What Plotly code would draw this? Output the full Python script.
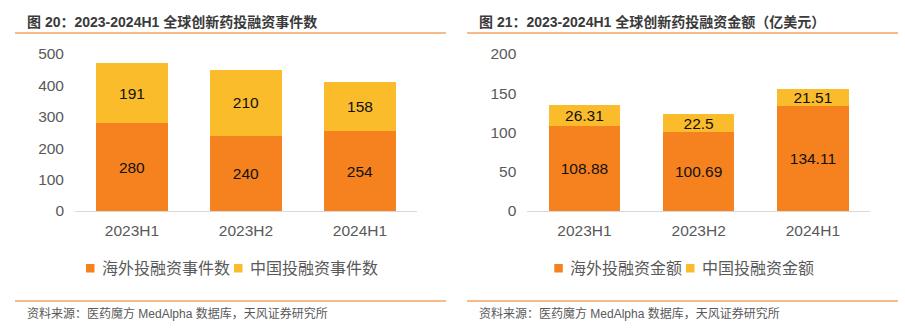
import plotly.graph_objects as go

W, H = 905, 329

periods = ["2023H1", "2023H2", "2024H1"]

# Investment event counts
overseas_events = [280, 240, 254]
china_events = [191, 210, 158]

# Investment amounts (100 million USD)
overseas_amount = [108.88, 100.69, 134.11]
china_amount = [26.31, 22.5, 21.51]

left_title = "图 20：2023-2024H1 全球创新药投融资事件数"
right_title = "图 21：2023-2024H1 全球创新药投融资金额（亿美元）"
source_text = "资料来源：医药魔方 MedAlpha 数据库，天风证券研究所"
left_names = ["海外投融资事件数", "中国投融资事件数"]
right_names = ["海外投融资金额", "中国投融资金额"]

ORANGE = "#F5821F"
YELLOW = "#FBBC2C"
RULE = "#F2A464"
GRAY = "#595959"
FONT = "Liberation Sans, Arial, Noto Sans CJK SC, sans-serif"


def px(x):
    return x / W


def py(y):
    return 1 - y / H


fig = go.Figure()


def add_bar(x, y, color, xa, ya, fmt):
    fig.add_trace(go.Bar(
        x=x, y=y, marker=dict(color=color, line=dict(width=0)),
        xaxis=xa, yaxis=ya, width=0.625,
        text=[fmt.format(v) for v in y], textposition="inside",
        insidetextanchor="middle", textangle=0,
        textfont=dict(size=15.5, color="#111111", family=FONT),
        showlegend=False, hoverinfo="skip",
    ))


add_bar(periods, overseas_events, ORANGE, "x", "y", "{:g}")
add_bar(periods, china_events, YELLOW, "x", "y", "{:g}")
add_bar(periods, overseas_amount, ORANGE, "x2", "y2", "{:g}")
add_bar(periods, china_amount, YELLOW, "x2", "y2", "{:g}")

y_dom = [py(211), py(54)]
axis_common = dict(
    showgrid=False, zeroline=False, ticks="",
    tickfont=dict(size=15.5, color=GRAY, family=FONT),
)

fig.update_layout(
    width=W, height=H,
    margin=dict(l=0, r=0, t=0, b=0, pad=0, autoexpand=False),
    paper_bgcolor="white", plot_bgcolor="white",
    barmode="stack", bargap=0.375, showlegend=False,
    font=dict(family=FONT, color=GRAY),
    uniformtext=dict(minsize=15.5, mode="show"),
    xaxis=dict(domain=[px(75), px(417)], anchor="y", showline=True,
               linecolor="#D9D9D9", linewidth=1, ticklabelstandoff=5,
               **axis_common),
    yaxis=dict(domain=y_dom, anchor="x", range=[0, 500], dtick=100,
               showline=False, ticklabelstandoff=10, **axis_common),
    xaxis2=dict(domain=[px(527.3), px(870)], anchor="y2", showline=True,
                linecolor="#D9D9D9", linewidth=1, ticklabelstandoff=5,
                **axis_common),
    yaxis2=dict(domain=y_dom, anchor="x2", range=[0, 200], dtick=50,
                showline=False, ticklabelstandoff=10, **axis_common),
)

shapes = []
annotations = []

# Header / footer rules and text for both panels
for x0, x1, title, tx in [(15, 446, left_title, 25), (467, 898, right_title, 477)]:
    for yy in (33, 301):
        shapes.append(dict(type="line", xref="paper", yref="paper",
                           x0=px(x0), x1=px(x1), y0=py(yy), y1=py(yy),
                           line=dict(color=RULE, width=1.5)))
    annotations.append(dict(text="<b>" + title + "</b>", xref="paper", yref="paper",
                            x=px(tx), y=py(22), xanchor="left", yanchor="middle",
                            showarrow=False,
                            font=dict(size=14, color="#3A3A3A", family=FONT)))
    annotations.append(dict(text=source_text, xref="paper", yref="paper",
                            x=px(tx), y=py(313), xanchor="left", yanchor="middle",
                            showarrow=False,
                            font=dict(size=12, color=GRAY, family=FONT)))

# Legend swatches and labels
legend_items = [
    (86, left_names[0], ORANGE), (234, left_names[1], YELLOW),
    (554.3, right_names[0], ORANGE), (686, right_names[1], YELLOW),
]
for sx, name, color in legend_items:
    shapes.append(dict(type="rect", xref="paper", yref="paper",
                       x0=px(sx), x1=px(sx + 8.5), y0=py(272.5), y1=py(264),
                       fillcolor=color, line=dict(width=0)))
    annotations.append(dict(text=name, xref="paper", yref="paper",
                            x=px(sx + 13.5), y=py(268), xanchor="left", yanchor="middle",
                            showarrow=False,
                            font=dict(size=16, color=GRAY, family=FONT)))

fig.update_layout(shapes=shapes, annotations=annotations)

fig.write_html("out.html")
